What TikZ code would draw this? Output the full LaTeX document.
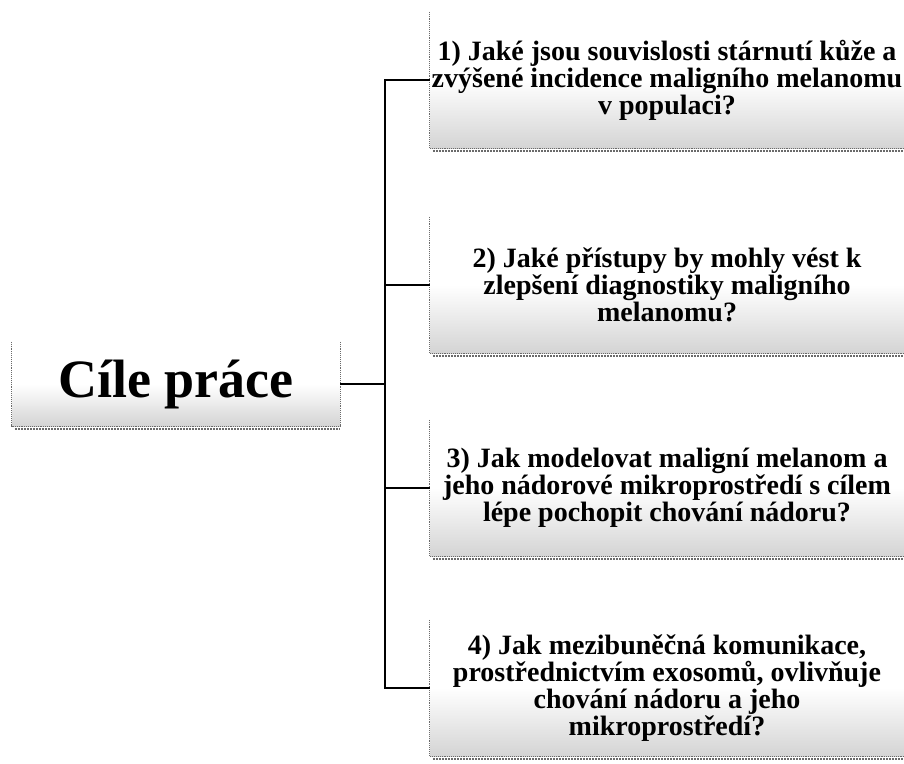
\documentclass[tikz,border=0pt]{standalone}
\usepackage{fontspec}
\setmainfont{Liberation Serif}
\usetikzlibrary{calc}
\definecolor{boxgray}{HTML}{D4D4D4}
\definecolor{edgegray}{HTML}{6A6A6A}

\begin{document}
\begin{tikzpicture}[x=1pt, y=-1pt,
    goal/.style={minimum width=474pt, minimum height=136pt, inner sep=0pt, align=center,
                 top color=white, bottom color=boxgray, middle color=white,
                 font=\bfseries\fontsize{28}{27}\selectfont},
    aim/.style={goal, minimum width=328pt, minimum height=84pt,
                font=\bfseries\fontsize{54}{60}\selectfont},
    link/.style={draw=black, line width=2.2pt},
    edge/.style={draw=edgegray, densely dotted, line width=0.9pt},
    shadow/.style={draw=edgegray, densely dotted, line width=2pt}
  ]
    \useasboundingbox (0,0) rectangle (904,763);

    \node[aim]  (main) at (176,384) {Cíle práce};

    \node[goal] (q1) at (667,80)  {1) Jaké jsou souvislosti stárnutí kůže a\\zvýšené incidence maligního melanomu\\v populaci?};
    \node[goal] (q2) at (667,285) {2) Jaké přístupy by mohly vést k\\zlepšení diagnostiky maligního\\melanomu?};
    \node[goal] (q3) at (667,488) {3) Jak modelovat maligní melanom a\\jeho nádorové mikroprostředí s cílem\\lépe pochopit chování nádoru?};
    \node[goal] (q4) at (667,688) {4) Jak mezibuněčná komunikace,\\prostřednictvím exosomů, ovlivňuje\\chování nádoru a jeho\\mikroprostředí?};

    \foreach \n in {main, q1, q2, q3, q4} {
      \draw[edge] (\n.north west) -- (\n.south west) -- (\n.south east);
      \draw[shadow] ($(\n.south west)+(3,3)$) -- ($(\n.south east)+(0,3)$);
    }
    \draw[edge] (main.north east) -- (main.south east);

    \draw[link] (main.east) -- ++(45,0) coordinate (fork);
    \foreach \q in {q1, q2, q3, q4}
      \draw[link] (fork) |- (\q.west);
  \end{tikzpicture}
\end{document}
